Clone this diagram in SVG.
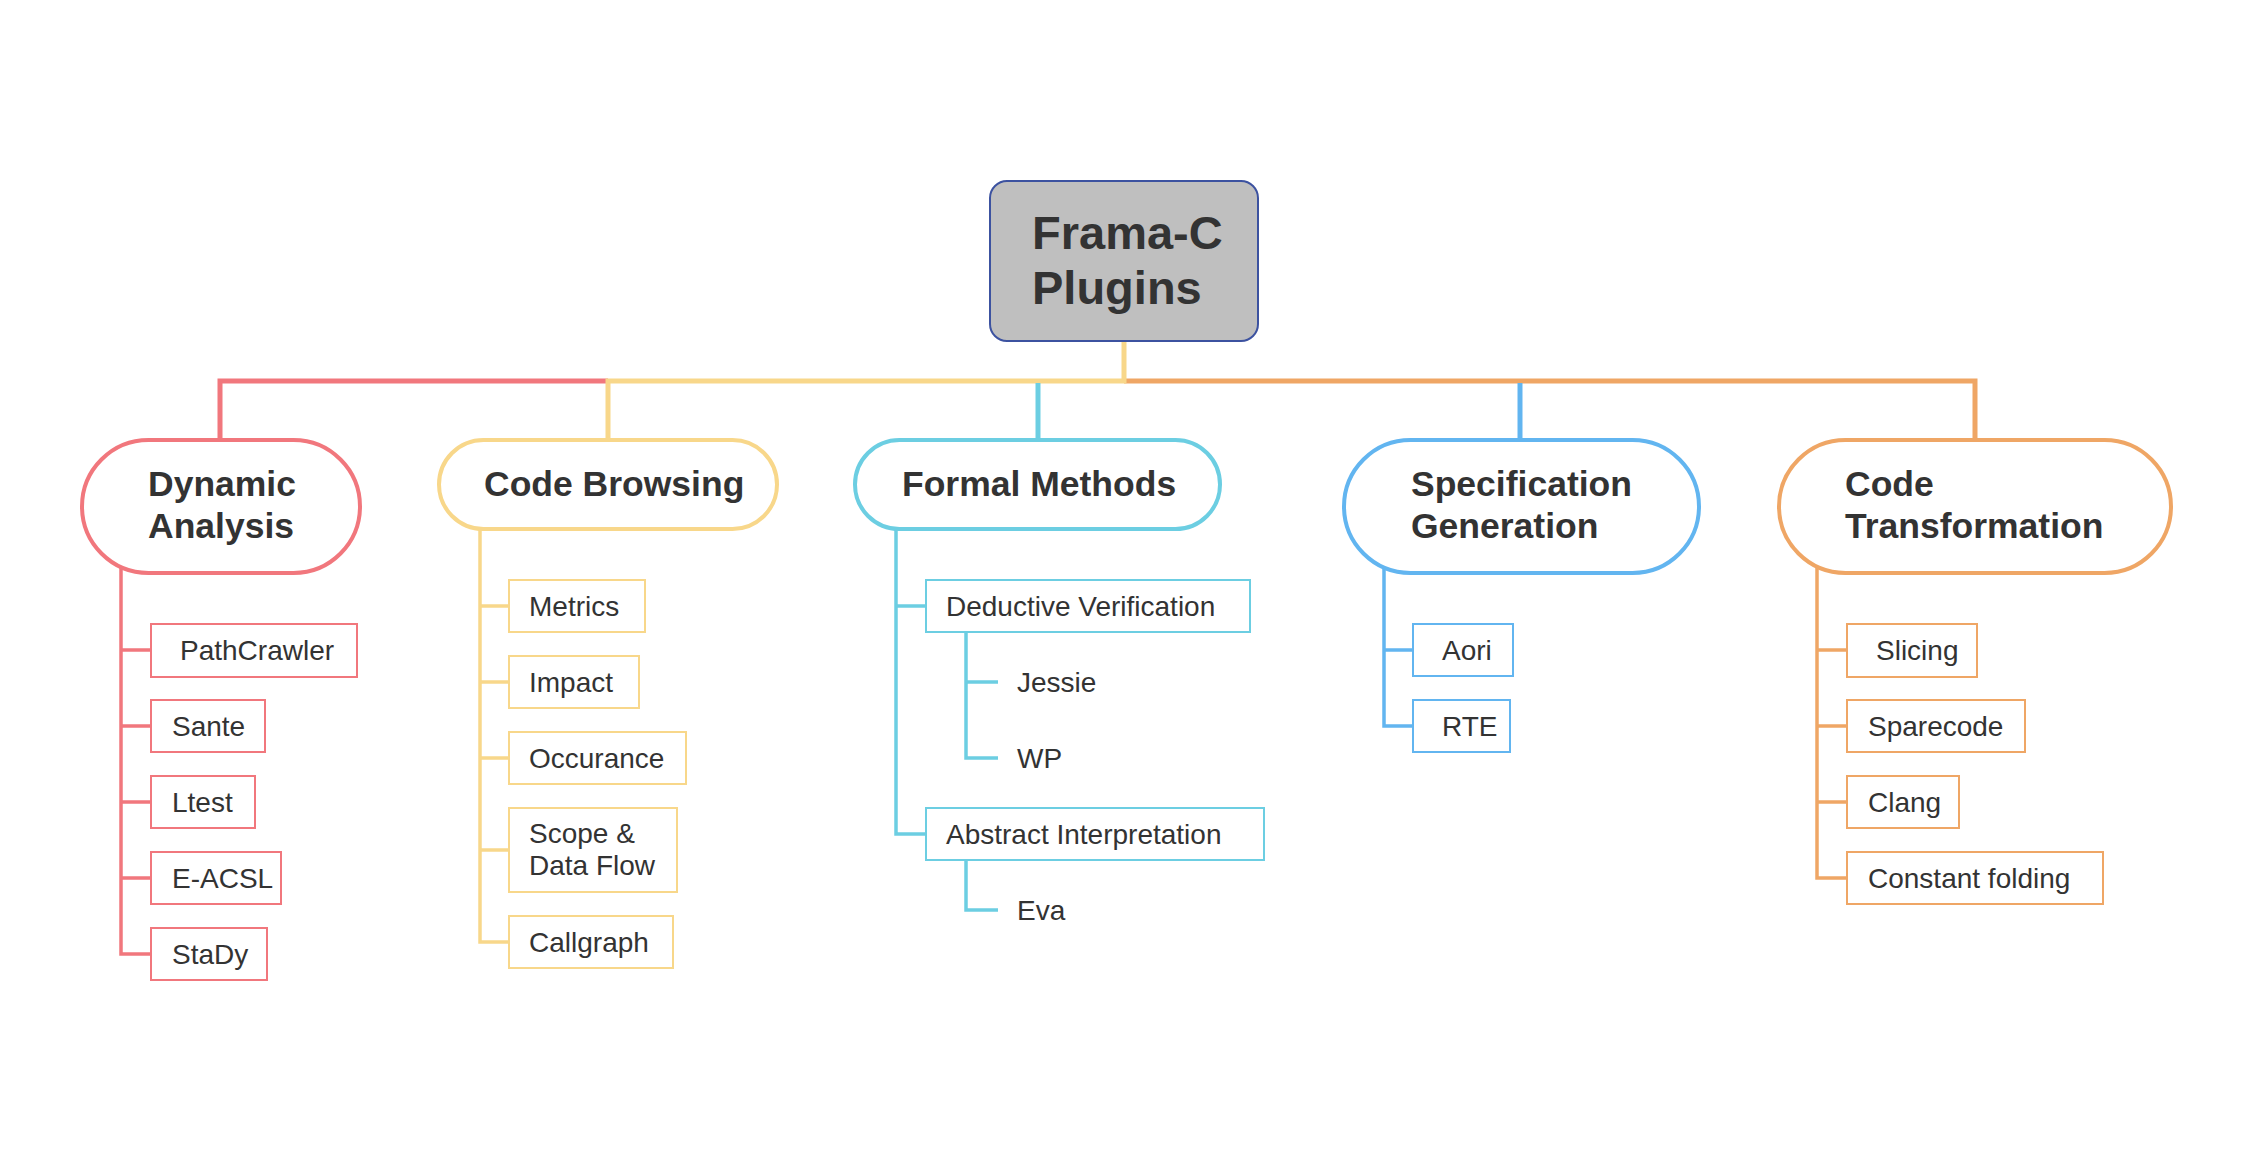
<svg xmlns="http://www.w3.org/2000/svg" width="2250" height="1161" viewBox="0 0 2250 1161">
<style>
.bus{fill:none;stroke-width:5;stroke-linejoin:miter}
.sub{fill:none;stroke-width:3.5;stroke-linejoin:miter}
.pill{fill:#fff;stroke-width:4}
.box{fill:#fff;stroke-width:2}
.h{font-family:"Liberation Sans",Arial,sans-serif;font-weight:bold;font-size:35.5px;fill:#333}
.t{font-family:"Liberation Sans",Arial,sans-serif;font-size:28px;fill:#333}
.root{font-family:"Liberation Sans",Arial,sans-serif;font-weight:bold;font-size:47px;fill:#333}
.red{stroke:#F1777D}.yel{stroke:#F8D78A}.cyn{stroke:#6CCEE2}.blu{stroke:#62B5F0}.org{stroke:#EFA665}
</style>
<rect width="2250" height="1161" fill="#fff"/>
<g id="connectors">
<path class="bus red" d="M220 445 V381 H608"/>
<path class="bus org" d="M1124 381 H1975 V445"/>
<path class="bus yel" d="M1124 341 V381 H608 V445"/>
<path class="bus cyn" d="M1038 383 V445"/>
<path class="bus blu" d="M1520 383 V445"/>
<path class="sub red" d="M121 560 V954 H151 M121 650 H151 M121 726 H151 M121 802 H151 M121 878 H151"/>
<path class="sub yel" d="M480 520 V942 H509 M480 606 H509 M480 682 H509 M480 758 H509 M480 850 H509"/>
<path class="sub cyn" d="M896 520 V834 H926 M896 606 H926 M966 632 V758 H998 M966 682 H998 M966 860 V910 H998"/>
<path class="sub blu" d="M1384 560 V726 H1413 M1384 650 H1413"/>
<path class="sub org" d="M1817 560 V878 H1847 M1817 650 H1847 M1817 726 H1847 M1817 802 H1847"/>
</g>
<g id="root">
<rect x="990" y="181" width="268" height="160" rx="17" fill="#BFBFBF" stroke="#3C52A0" stroke-width="2"/>
<text class="root" x="1032" y="249">Frama-C</text>
<text class="root" x="1032" y="304">Plugins</text>
</g>
<g id="dynamic-analysis">
<rect class="pill red" x="82" y="440" width="278" height="133" rx="66.5"/>
<text class="h" x="148" y="496">Dynamic</text>
<text class="h" x="148" y="538">Analysis</text>
</g>
<g id="code-browsing">
<rect class="pill yel" x="439" y="440" width="338" height="89" rx="44.5"/>
<text class="h" x="484" y="496">Code Browsing</text>
</g>
<g id="formal-methods">
<rect class="pill cyn" x="855" y="440" width="365" height="89" rx="44.5"/>
<text class="h" x="902" y="496">Formal Methods</text>
</g>
<g id="specification-generation">
<rect class="pill blu" x="1344" y="440" width="355" height="133" rx="66.5"/>
<text class="h" x="1411" y="496">Specification</text>
<text class="h" x="1411" y="538">Generation</text>
</g>
<g id="code-transformation">
<rect class="pill org" x="1779" y="440" width="392" height="133" rx="66.5"/>
<text class="h" x="1845" y="496">Code</text>
<text class="h" x="1845" y="538">Transformation</text>
</g>
<g id="pathcrawler"><rect class="box red" x="151" y="624" width="206" height="53"/><text class="t" x="180" y="660">PathCrawler</text></g>
<g id="sante"><rect class="box red" x="151" y="700" width="114" height="52"/><text class="t" x="172" y="736">Sante</text></g>
<g id="ltest"><rect class="box red" x="151" y="776" width="104" height="52"/><text class="t" x="172" y="812">Ltest</text></g>
<g id="e-acsl"><rect class="box red" x="151" y="852" width="130" height="52"/><text class="t" x="172" y="888">E-ACSL</text></g>
<g id="stady"><rect class="box red" x="151" y="928" width="116" height="52"/><text class="t" x="172" y="964">StaDy</text></g>
<g id="metrics"><rect class="box yel" x="509" y="580" width="136" height="52"/><text class="t" x="529" y="616">Metrics</text></g>
<g id="impact"><rect class="box yel" x="509" y="656" width="130" height="52"/><text class="t" x="529" y="692">Impact</text></g>
<g id="occurance"><rect class="box yel" x="509" y="732" width="177" height="52"/><text class="t" x="529" y="768">Occurance</text></g>
<g id="scope-data-flow"><rect class="box yel" x="509" y="808" width="168" height="84"/><text class="t" x="529" y="843">Scope &amp;</text><text class="t" x="529" y="875">Data Flow</text></g>
<g id="callgraph"><rect class="box yel" x="509" y="916" width="164" height="52"/><text class="t" x="529" y="952">Callgraph</text></g>
<g id="deductive-verification"><rect class="box cyn" x="926" y="580" width="324" height="52"/><text class="t" x="946" y="616">Deductive Verification</text></g>
<g id="jessie"><text class="t" x="1017" y="692">Jessie</text></g>
<g id="wp"><text class="t" x="1017" y="768">WP</text></g>
<g id="abstract-interpretation"><rect class="box cyn" x="926" y="808" width="338" height="52"/><text class="t" x="946" y="844">Abstract Interpretation</text></g>
<g id="eva"><text class="t" x="1017" y="920">Eva</text></g>
<g id="aori"><rect class="box blu" x="1413" y="624" width="100" height="52"/><text class="t" x="1442" y="660">Aori</text></g>
<g id="rte"><rect class="box blu" x="1413" y="700" width="97" height="52"/><text class="t" x="1442" y="736">RTE</text></g>
<g id="slicing"><rect class="box org" x="1847" y="624" width="130" height="53"/><text class="t" x="1876" y="660">Slicing</text></g>
<g id="sparecode"><rect class="box org" x="1847" y="700" width="178" height="52"/><text class="t" x="1868" y="736">Sparecode</text></g>
<g id="clang"><rect class="box org" x="1847" y="776" width="112" height="52"/><text class="t" x="1868" y="812">Clang</text></g>
<g id="constant-folding"><rect class="box org" x="1847" y="852" width="256" height="52"/><text class="t" x="1868" y="888">Constant folding</text></g>
</svg>
